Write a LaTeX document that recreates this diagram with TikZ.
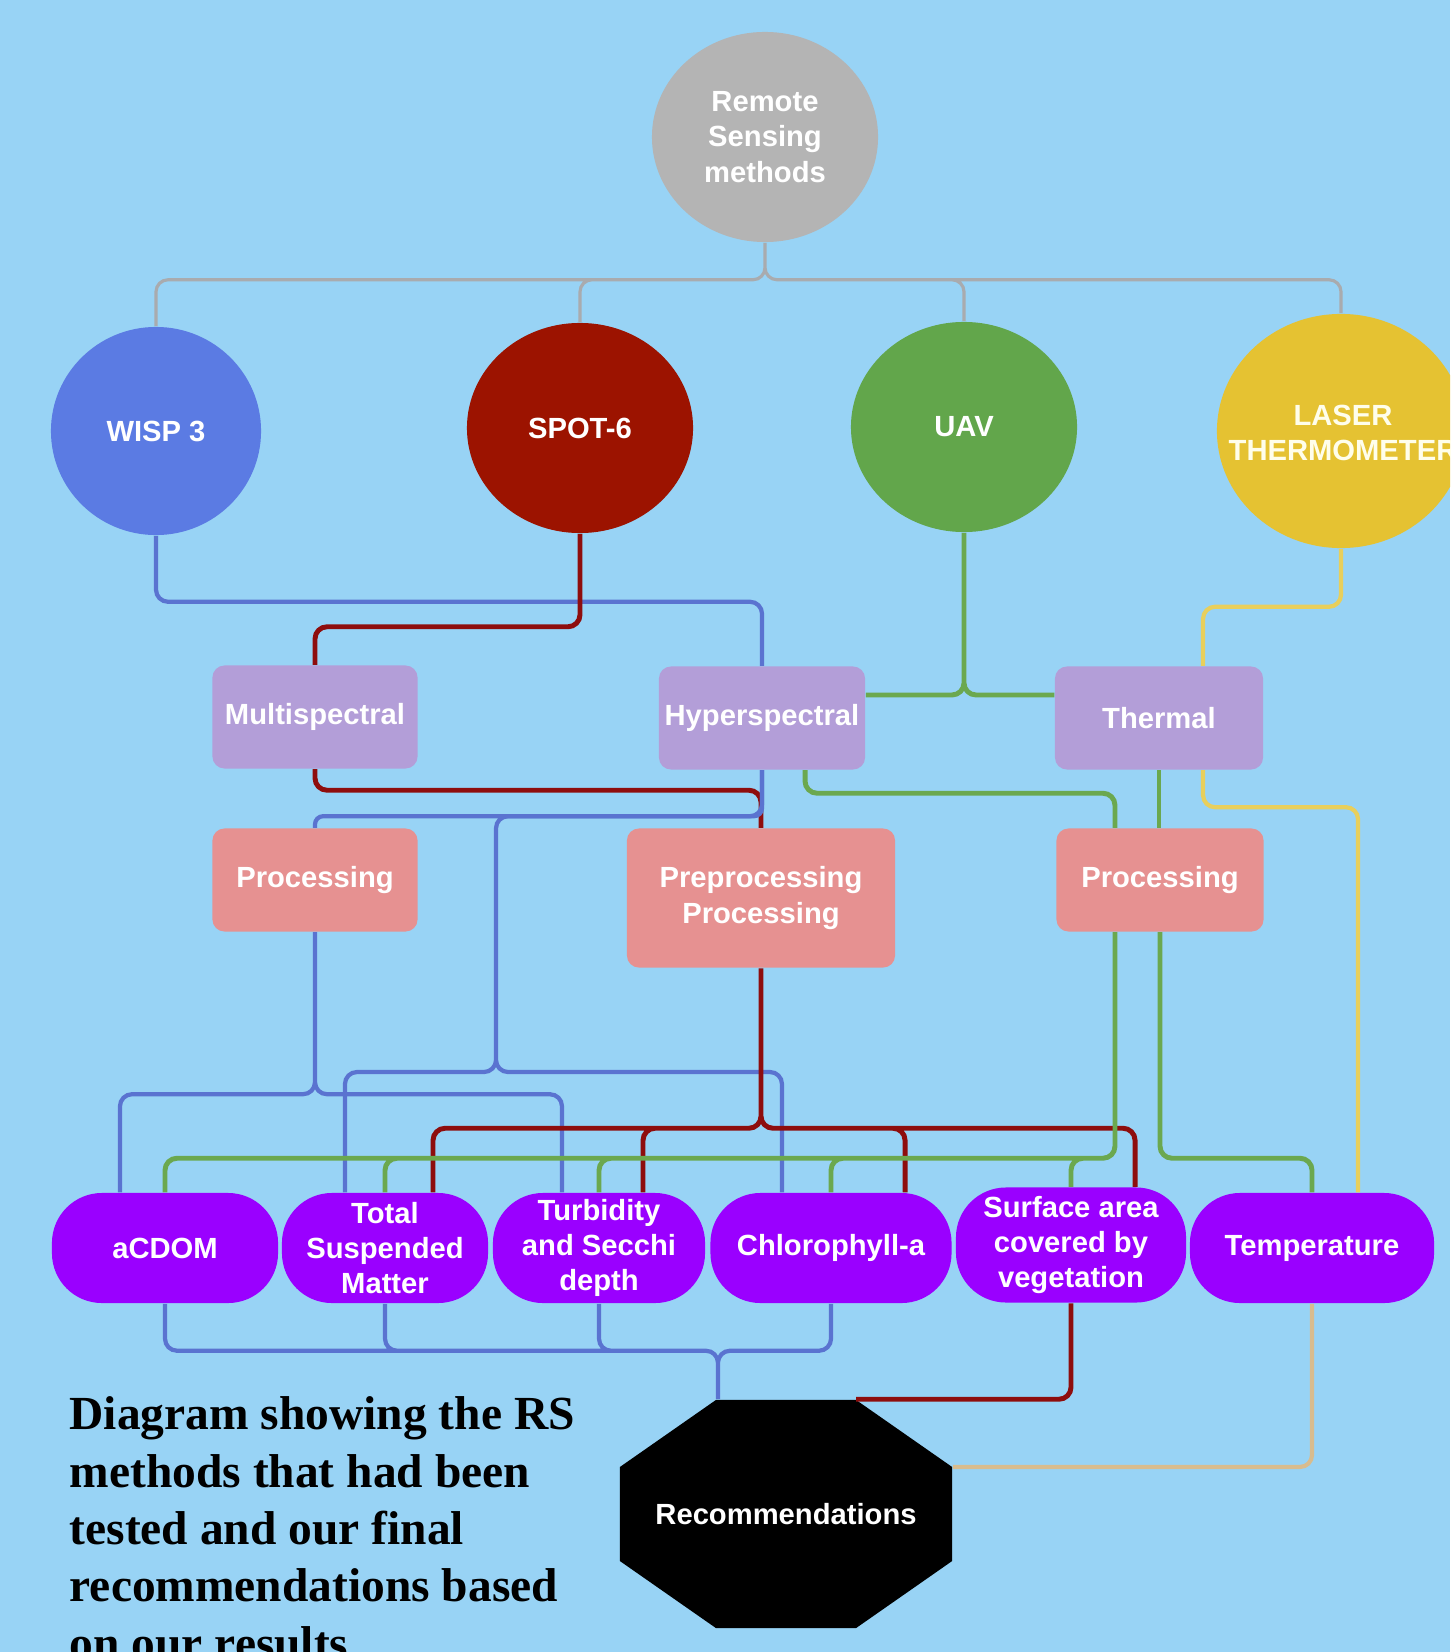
\documentclass[tikz,border=0pt]{standalone}
\usepackage{fontspec}
\setmainfont{Liberation Serif}
\setsansfont{Liberation Sans}
\usetikzlibrary{shapes.geometric}

\definecolor{skybg}{HTML}{98D3F5}
\definecolor{rootgray}{HTML}{B4B4B4}
\definecolor{wispblue}{HTML}{5B7BE3}
\definecolor{spotred}{HTML}{9C1300}
\definecolor{uavgreen}{HTML}{62A64B}
\definecolor{laseryellow}{HTML}{E5C232}
\definecolor{lavender}{HTML}{B39ED8}
\definecolor{salmon}{HTML}{E69191}
\definecolor{paramviolet}{HTML}{9A00FF}
\definecolor{grayline}{HTML}{A9ABAE}
\definecolor{blueline}{HTML}{5A73D0}
\definecolor{redline}{HTML}{8E0D0D}
\definecolor{greenline}{HTML}{6BA84F}
\definecolor{yellowline}{HTML}{E8CF5C}
\definecolor{tanline}{HTML}{D8BC8E}

\begin{document}
\begin{tikzpicture}[x=0.01cm,y=-0.01cm]

\tikzstyle{every node}=[text=white,font=\sffamily\bfseries\fontsize{8.3}{10}\selectfont,align=center,inner sep=0pt];
\tikzstyle{method}=[ellipse,minimum width=2.26cm,minimum height=2.1cm];
\tikzstyle{kind}=[rectangle,rounded corners=0.12cm,fill=lavender,minimum width=2.06cm,minimum height=1.03cm];
\tikzstyle{proc}=[rectangle,rounded corners=0.12cm,fill=salmon,minimum width=2.06cm,minimum height=1.03cm];
\tikzstyle{param}=[rectangle,rounded corners=0.5cm,fill=paramviolet,minimum height=1.1cm];
\tikzstyle{conn}=[line width=1.2pt,rounded corners=0.12cm];

\clip (0,0) rectangle (1450,1652);
\fill[skybg] (0,0) rectangle (1450,1652);

% Draw the method nodes
\node[method,fill=rootgray] (rs) at (765,137) {Remote\\Sensing\\methods};
\node[method,fill=wispblue,minimum width=2.1cm,minimum height=2.08cm] (wisp) at (156,431) {WISP 3};
\node[method,fill=spotred] (spot) at (580,428) {SPOT-6};
\node[method,fill=uavgreen] (uav) at (964,427) {UAV};
\node[method,fill=laseryellow,minimum width=2.48cm,minimum height=2.34cm] (laser) at (1341,431) {};
\node[text=white!92!yellow] (lasertext) at (1343,433) {LASER\\THERMOMETER};

% Sensor kinds and processing
\node[kind,minimum width=2.05cm] (multi) at (315,717) {Multispectral};
\node[kind] (hyper) at (762,718) {Hyperspectral};
\node[kind,minimum width=2.08cm] (thermal) at (1159,718) {Thermal};
\node[proc,minimum width=2.05cm] (procL) at (315,880) {Processing};
\node[proc,minimum width=2.68cm,minimum height=1.39cm] (preproc) at (761,898) {Preprocessing\\Processing};
\node[proc,minimum width=2.07cm] (procR) at (1160,880) {Processing};

% Water parameters
\node[param,minimum width=2.26cm] (acdom) at (165,1248) {aCDOM};
\node[param,minimum width=2.06cm] (tsm) at (385,1248) {Total\\Suspended\\Matter};
\node[param,minimum width=2.12cm] (turb) at (599,1248) {Turbidity\\and Secchi\\depth};
\node[param,minimum width=2.41cm] (chl) at (831,1248) {Chlorophyll-a};
\node[param,minimum width=2.3cm,minimum height=1.15cm] (surf) at (1071,1245) {Surface area\\covered by\\vegetation};
\node[param,minimum width=2.44cm] (temp) at (1312,1248) {Temperature};

% Final node
\node[rectangle,minimum width=3.32cm,minimum height=2.28cm,
  path picture={\fill[black] ([xshift=-0.7cm]path picture bounding box.north)
    -- ([xshift=0.7cm]path picture bounding box.north)
    -- ([yshift=0.47cm]path picture bounding box.east)
    -- ([yshift=-0.47cm]path picture bounding box.east)
    -- ([xshift=0.7cm]path picture bounding box.south)
    -- ([xshift=-0.7cm]path picture bounding box.south)
    -- ([yshift=-0.47cm]path picture bounding box.west)
    -- ([yshift=0.47cm]path picture bounding box.west) -- cycle;}]
  (rec) at (786,1514) {Recommendations};

\node[text=black,anchor=base west,align=left,font=\rmfamily\bfseries\fontsize{13.5}{16.3}\selectfont] (caption) at (69,1659)
  {Diagram showing the RS\\methods that had been\\tested and our final\\recommendations based\\on our results};

% Links between the nodes
\draw[conn,grayline,line width=0.9pt] (rs.south) -- ++(0,37) -| (wisp.north)
  (rs.south) -- ++(0,37) -| (spot.north)
  (rs.south) -- ++(0,37) -| (uav.north)
  (rs.south) -- ++(0,37) -| (laser.north);

\draw[conn,blueline] (wisp.south) -- ++(0,66) -| (hyper.north);
\draw[conn,redline,line width=1.4pt] (spot.south) -- ++(0,93) -| (multi.north);
\draw[conn,greenline,line width=1.4pt] (uav.south) |- ([yshift=0.23cm]hyper.east)
  (uav.south) |- ([yshift=0.23cm]thermal.west);
\draw[conn,yellowline] (laser.south) -- ++(0,58) -| ([xshift=0.44cm]thermal.north);

\draw[conn,redline,line width=1.4pt] (multi.south) -- ++(0,21) -| (preproc.north);
\draw[conn,blueline,rounded corners=0.08cm] (hyper.south) -- ++(0,46) -| (procL.north);
\draw[conn,blueline] (hyper.south) -- ++(0,46) -| (496,1072) -| ([xshift=-0.4cm]tsm.north)
  (hyper.south) -- ++(0,46) -| (496,1072) -| ([xshift=-0.49cm]chl.north);
\draw[conn,greenline,line width=1.4pt] ([xshift=0.43cm]hyper.south) -- ++(0,23) -| ([xshift=-0.45cm]procR.north);
\draw[conn,greenline,line width=1.4pt] (thermal.south) -- (thermal.south |- procR.north);
\draw[conn,yellowline] ([xshift=0.44cm]thermal.south) -- ++(0,37) -| ([xshift=0.46cm]temp.north);

\draw[conn,blueline] (procL.south) -- ++(0,162) -| ([xshift=-0.45cm]acdom.north)
  (procL.south) -- ++(0,162) -| ([xshift=-0.37cm]turb.north);
\draw[conn,redline,line width=1.4pt] (preproc.south) -- ++(0,160) -| ([xshift=0.48cm]tsm.north)
  (preproc.south) -- ++(0,160) -| ([xshift=0.44cm]turb.north)
  (preproc.south) -- ++(0,160) -| ([xshift=0.74cm]chl.north)
  (preproc.south) -- ++(0,160) -| ([xshift=0.64cm]surf.north);
\draw[conn,greenline,line width=1.4pt] ([xshift=-0.45cm]procR.south) -- ++(0,226) -| (acdom.north)
  ([xshift=-0.45cm]procR.south) -- ++(0,226) -| (tsm.north)
  ([xshift=-0.45cm]procR.south) -- ++(0,226) -| (turb.north)
  ([xshift=-0.45cm]procR.south) -- ++(0,226) -| (chl.north)
  ([xshift=-0.45cm]procR.south) -- ++(0,226) -| (surf.north)
  (procR.south) -- ++(0,226) -| (temp.north);

\draw[conn,blueline] (acdom.south) -- ++(0,47) -| ([xshift=-0.68cm]rec.north)
  (tsm.south) -- ++(0,47) -| ([xshift=-0.68cm]rec.north)
  (turb.south) -- ++(0,47) -| ([xshift=-0.68cm]rec.north)
  (chl.south) -- ++(0,47) -| ([xshift=-0.68cm]rec.north);
\draw[conn,redline,line width=1.4pt] (surf.south) |- ([xshift=0.7cm]rec.north);
\draw[conn,tanline] (temp.south) |- ([yshift=0.47cm]rec.east);

\end{tikzpicture}
\end{document}
